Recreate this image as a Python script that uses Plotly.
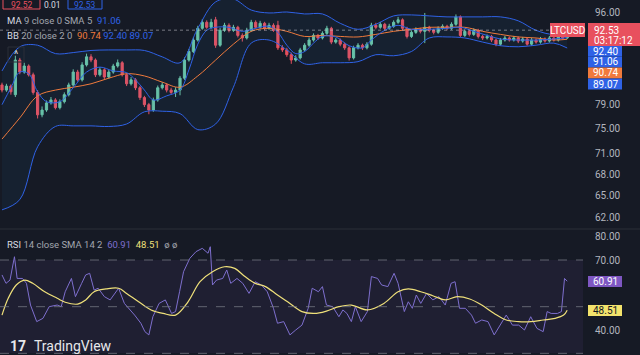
import math
import plotly.graph_objects as go

# ---------------- data ----------------
opens = [82.3, 81.4, 82.1, 80.6, 86.8, 84.6, 85.7, 84.1, 81.0, 77.2,
         78.0, 79.2, 79.7, 78.4, 79.4, 80.6, 82.3, 84.6, 83.2, 85.9,
         87.4, 86.8, 84.1, 85.0, 83.7, 84.6, 85.7, 86.3, 84.1, 82.5,
         83.2, 81.8, 80.1, 78.9, 78.0, 79.7, 81.8, 82.3, 81.4, 81.0,
         81.4, 83.5, 86.8, 88.4, 90.6, 92.9, 94.1, 93.1, 94.6, 89.6,
         92.5, 93.5, 92.5, 93.1, 91.5, 91.0, 92.5, 94.1, 93.1, 93.9,
         92.9, 93.5, 93.5, 89.1, 88.7, 87.8, 86.8, 87.2, 88.7, 89.6,
         90.6, 91.5, 91.0, 91.9, 92.9, 90.2, 90.6, 89.8, 89.1, 87.2,
         89.1, 89.6, 89.1, 89.8, 93.5, 93.1, 93.7, 92.9, 93.3, 94.1,
         94.6, 92.9, 91.3, 92.1, 92.7, 92.3, 93.1, 92.5, 92.1, 92.9,
         93.3, 92.9, 93.7, 95.2, 91.5, 92.3, 91.7, 92.5, 91.3, 91.0,
         91.3, 90.6, 89.8, 90.6, 91.0, 90.6, 91.0, 90.4, 90.8, 89.8,
         90.6, 90.2, 90.8, 90.4, 91.0, 90.6, 91.2, 91.0]
highs = [82.7, 82.5, 82.4, 87.6, 87.2, 86.3, 86.0, 84.5, 81.4, 78.6,
         79.6, 80.2, 80.0, 79.8, 81.0, 82.7, 85.1, 85.0, 86.4, 88.0,
         87.9, 87.1, 85.5, 85.3, 85.0, 86.1, 86.9, 86.6, 84.4, 83.7,
         83.5, 82.1, 80.4, 79.2, 80.1, 82.2, 82.8, 82.6, 81.8, 81.9,
         83.9, 87.3, 88.9, 91.1, 93.4, 94.7, 94.5, 94.8, 95.2, 93.0,
         94.0, 93.9, 93.6, 93.4, 91.9, 93.0, 94.6, 94.5, 94.4, 94.2,
         94.0, 93.9, 94.4, 89.6, 89.1, 88.2, 87.7, 89.1, 90.0, 91.1,
         91.9, 91.8, 92.3, 93.4, 93.2, 91.0, 90.9, 90.1, 89.4, 89.5,
         90.0, 89.9, 90.2, 94.0, 94.0, 94.2, 94.0, 93.8, 94.5, 95.2,
         94.9, 93.2, 92.5, 93.1, 93.0, 96.0, 93.4, 92.8, 93.3, 93.7,
         93.6, 94.1, 95.7, 95.5, 92.7, 92.6, 92.9, 92.8, 91.6, 91.7,
         91.6, 90.9, 91.0, 91.4, 91.3, 91.4, 91.3, 91.2, 91.1, 91.0,
         90.9, 91.2, 91.1, 91.4, 91.3, 91.6, 91.5, 92.8]
lows = [81.0, 81.1, 80.6, 80.2, 84.2, 84.3, 83.8, 80.6, 76.6, 76.8,
        77.7, 78.9, 78.1, 78.1, 79.1, 80.3, 82.0, 82.9, 82.9, 85.6,
        86.4, 83.7, 83.8, 83.3, 83.4, 84.3, 85.4, 83.8, 82.1, 82.2,
        81.4, 79.7, 78.5, 77.3, 77.7, 79.4, 81.5, 81.0, 80.6, 80.2,
        80.5, 83.2, 86.5, 88.1, 90.3, 92.6, 92.8, 92.8, 89.1, 89.3,
        92.2, 92.1, 92.2, 91.1, 90.3, 90.7, 92.2, 92.8, 92.8, 92.5,
        92.6, 92.2, 88.7, 88.3, 87.4, 86.1, 86.5, 86.9, 88.4, 89.3,
        90.3, 90.6, 90.7, 91.6, 89.8, 89.9, 89.4, 88.7, 86.7, 86.9,
        88.8, 88.7, 88.8, 89.5, 92.7, 92.8, 92.5, 92.6, 93.0, 93.8,
        92.5, 90.9, 91.0, 91.8, 91.9, 90.0, 92.1, 91.7, 91.8, 92.6,
        92.5, 92.6, 93.4, 91.1, 91.2, 91.3, 91.4, 90.9, 90.6, 90.7,
        90.2, 89.4, 89.5, 90.3, 90.3, 90.3, 90.0, 90.1, 89.5, 89.5,
        89.9, 89.9, 90.1, 90.1, 90.3, 90.3, 90.7, 90.8]
closes = [81.4, 82.1, 81.1, 86.8, 84.6, 85.7, 84.1, 81.0, 77.2, 78.0,
          79.2, 79.7, 78.4, 79.4, 80.6, 82.3, 84.6, 83.2, 85.9, 87.4,
          86.8, 84.1, 85.0, 83.7, 84.6, 85.7, 86.3, 84.1, 82.5, 83.2,
          81.8, 80.1, 78.9, 78.0, 79.7, 81.8, 82.3, 81.4, 81.0, 81.4,
          83.5, 86.8, 88.4, 90.6, 92.9, 94.1, 93.1, 94.1, 89.6, 92.5,
          93.5, 92.5, 93.1, 91.5, 91.0, 92.5, 94.1, 93.1, 93.9, 92.9,
          93.5, 92.5, 89.1, 88.7, 87.8, 86.8, 87.2, 88.7, 89.6, 90.6,
          91.5, 91.0, 91.9, 92.9, 90.2, 90.6, 89.8, 89.1, 87.2, 89.1,
          89.6, 89.1, 89.8, 93.5, 93.1, 93.7, 92.9, 93.3, 94.1, 94.6,
          92.9, 91.3, 92.1, 92.7, 92.3, 93.1, 92.5, 92.1, 92.9, 93.3,
          92.9, 93.7, 95.2, 91.5, 92.3, 91.7, 92.5, 91.3, 91.0, 91.3,
          90.6, 89.8, 90.6, 91.0, 90.6, 91.0, 90.4, 90.8, 89.8, 90.6,
          90.2, 90.8, 90.4, 91.0, 90.6, 91.2, 91.0, 92.53]
candle_idx = list(range(len(closes)))

bb_x = [0, 4, 8, 12, 16, 20, 24, 28, 32, 36, 40, 44, 48, 52, 56, 60, 64,
        68, 72, 76, 80, 84, 88, 92, 96, 100, 104, 108, 112, 116, 120, 124, 127]
bb_upper = [84.8, 89.3, 89.6, 88.0, 88.2, 88.6, 88.7, 88.7, 88.6, 87.4, 86.3,
            92.9, 98.3, 98.9, 96.6, 96.0, 96.2, 95.8, 95.8, 93.9, 92.7, 93.7,
            95.4, 95.6, 95.4, 95.2, 95.2, 95.2, 95.2, 94.4, 92.5, 91.7, 92.40]
bb_basis = [73.3, 76.7, 80.4, 81.4, 81.9, 82.5, 83.5, 84.3, 83.9, 82.8, 81.9,
            83.9, 86.8, 89.8, 92.3, 92.9, 92.3, 91.3, 91.5, 91.3, 91.2, 91.7,
            92.3, 92.7, 93.1, 93.1, 93.1, 92.3, 91.7, 91.2, 91.0, 90.6, 90.74]
bb_lower = [63.0, 64.4, 72.1, 75.3, 75.4, 75.4, 75.3, 75.7, 77.7, 77.8, 77.4,
            74.8, 75.7, 81.9, 90.0, 90.6, 88.7, 86.1, 86.3, 86.3, 86.5, 87.8,
            87.6, 88.4, 91.0, 91.2, 91.0, 90.2, 89.5, 89.3, 89.6, 90.0, 89.07]

ma_x = [0, 2, 4, 6, 8, 10, 13, 16, 19, 22, 25, 28, 30, 32, 34, 37, 40, 42,
        44, 46, 48, 51, 54, 57, 60, 62, 64, 66, 68, 70, 72, 75, 78, 81, 83,
        86, 89, 92, 96, 100, 103, 106, 109, 112, 116, 120, 124, 127]
ma_vals = [78.9, 81.8, 84.6, 84.3, 81.1, 79.4, 79.4, 81.8, 84.6, 85.5, 84.8,
           84.5, 83.2, 81.4, 79.7, 80.4, 81.4, 85.0, 89.8, 92.5, 93.1, 93.1,
           92.3, 92.9, 93.3, 92.1, 89.6, 88.0, 88.4, 90.0, 91.3, 91.2, 89.5,
           89.1, 90.6, 92.5, 93.5, 92.7, 92.7, 92.9, 93.1, 92.3, 91.5, 90.8,
           90.6, 90.6, 90.8, 91.06]

rsi_x = [0, 0.9, 1.8, 2.8, 3.4, 4.6, 5.5, 6.4, 7.8, 9.2,
         10.6, 12.4, 13.3, 14.2, 15.6, 16.5, 17.9, 18.8, 19.7, 20.7,
         21.6, 23.0, 24.3, 26.2, 27.5, 28.5, 29.8, 31.2, 32.1, 33.0,
         33.9, 35.3, 36.7, 38.1, 39.0, 39.9, 40.8, 42.2, 43.6, 45.0,
         46.3, 46.8, 47.3, 48.2, 49.6, 50.5, 51.4, 52.8, 54.1, 55.5,
         56.9, 58.3, 59.6, 61.0, 61.9, 63.3, 64.7, 66.0, 67.4, 68.8,
         69.7, 71.1, 72.0, 72.9, 74.3, 75.7, 76.6, 77.5, 78.5, 79.4,
         80.7, 82.1, 83.0, 84.4, 85.3, 86.7, 88.1, 89.0, 90.4, 91.3,
         92.2, 93.1, 94.1, 95.4, 96.8, 98.2, 99.6, 100.9, 101.8, 102.8,
         104.1, 105.5, 106.4, 107.8, 109.2, 110.6, 111.9, 113.3, 114.7, 116.1,
         117.4, 118.8, 120.2, 121.6, 122.5, 123.4, 124.8, 125.7, 126.4, 127.0]
rsi_vals = [63.6, 60.0, 61.4, 71.4, 62.1, 62.1, 60.0, 50.7, 43.6, 45.0,
            50.0, 50.7, 50.0, 56.4, 62.1, 54.3, 60.0, 63.6, 64.3, 57.1,
            57.9, 54.3, 52.9, 57.9, 51.4, 49.3, 46.4, 42.9, 39.3, 37.9,
            45.7, 51.4, 52.9, 47.1, 47.9, 56.4, 65.0, 70.7, 73.6, 75.0,
            72.9, 75.7, 59.3, 61.4, 62.1, 65.7, 60.0, 62.1, 60.0, 55.7,
            60.7, 59.3, 56.4, 49.3, 42.9, 43.6, 37.9, 40.0, 42.1, 49.3,
            57.9, 56.4, 58.6, 50.7, 50.0, 45.7, 48.6, 47.1, 43.6, 50.0,
            43.6, 47.9, 62.9, 62.1, 59.3, 58.6, 64.3, 60.0, 47.9, 52.1,
            49.3, 55.0, 51.4, 55.7, 52.9, 54.3, 50.7, 60.0, 60.7, 49.3,
            49.3, 46.4, 42.9, 44.3, 43.6, 37.9, 42.1, 46.4, 42.1, 42.1,
            40.0, 45.7, 40.7, 39.3, 47.9, 47.1, 47.1, 47.9, 62.1, 60.91]

rsi_ma_x = [0, 1.4, 3.2, 5.1, 6.9, 9.6, 12.4, 14.2, 17, 18.8,
            20.7, 23.4, 26.2, 28, 30.7, 33.5, 36.2, 39, 41.8, 44.5,
            47.3, 50, 52.3, 54.6, 56.9, 59.2, 61.9, 64.7, 67.4, 70.2,
            72.9, 75.7, 78.5, 82.1, 85.8, 89, 91.3, 94.1, 96.8, 99.6,
            102.3, 105.1, 107.8, 110.6, 113.3, 116.1, 118.8, 121.6, 124.3, 126.2, 127]
rsi_ma_vals = [46.4, 53.6, 59.3, 61.4, 60.0, 56.4, 53.6, 51.9, 51.1, 52.9,
               56.4, 57.6, 57.9, 55.7, 52.1, 48.6, 47.1, 46.4, 52.1, 60.7,
               65.0, 67.1, 66.4, 62.9, 60.0, 58.6, 55.0, 51.4, 47.9, 47.1,
               48.1, 50.0, 50.7, 48.6, 51.4, 56.4, 57.6, 56.4, 54.7, 52.9,
               54.3, 53.3, 50.7, 47.1, 44.3, 43.6, 43.6, 44.3, 45.0, 46.4, 48.51]

price_ticks = [62, 65, 68, 71, 75, 79, 96]
rsi_ticks = [30, 40, 70, 80]
rsi_levels = [70, 50, 30]
bid_price = 92.52
spread = 0.01
countdown = "03:17:12"
symbol = "LTCUSD"

# ---------------- style ----------------
W, H = 640, 355
BG = "#161a25"
UP = "#6cc4a4"
DOWN = "#e8505e"
BLUE = "#2f62e6"
ORANGE = "#f07a3c"
PURPLE = "#7e6fce"
YELLOW = "#efe07a"
GRAY = "#a3a6af"
WHITE = "#d8dae0"
FONT = "Roboto"

PLOT_RIGHT = 583          # pixel where the price scale begins
PRICE_PANEL_BOTTOM = 228
RSI_PANEL_TOP = 230


def px(x):
    return x / W


def py(y):
    return 1 - y / H


fig = go.Figure()

# Bollinger bands
fig.add_trace(go.Scatter(x=bb_x, y=bb_lower, mode="lines", line=dict(color=BLUE, width=1, shape="spline"),
                         hoverinfo="skip", showlegend=False))
fig.add_trace(go.Scatter(x=bb_x, y=bb_upper, mode="lines", line=dict(color=BLUE, width=1, shape="spline"),
                         fill="tonexty", fillcolor="rgba(33,150,243,0.06)", hoverinfo="skip", showlegend=False))
fig.add_trace(go.Scatter(x=bb_x, y=bb_basis, mode="lines", line=dict(color=ORANGE, width=1, shape="spline"),
                         hoverinfo="skip", showlegend=False))
fig.add_trace(go.Scatter(x=ma_x, y=ma_vals, mode="lines", line=dict(color=BLUE, width=1, shape="spline"),
                         hoverinfo="skip", showlegend=False))

# candles
fig.add_trace(go.Candlestick(
    x=candle_idx, open=opens, high=highs, low=lows, close=closes,
    increasing=dict(line=dict(color=UP, width=1), fillcolor=UP),
    decreasing=dict(line=dict(color=DOWN, width=1), fillcolor=DOWN),
    whiskerwidth=0, showlegend=False, hoverinfo="skip"))

# RSI
fig.add_trace(go.Scatter(x=rsi_x, y=rsi_vals, mode="lines", yaxis="y2",
                         line=dict(color=PURPLE, width=1), hoverinfo="skip", showlegend=False))
fig.add_trace(go.Scatter(x=rsi_ma_x, y=rsi_ma_vals, mode="lines", yaxis="y2",
                         line=dict(color=YELLOW, width=1.2, shape="spline"), hoverinfo="skip", showlegend=False))

shapes = []
annotations = []

# current price dotted line
shapes.append(dict(type="line", xref="paper", yref="y", x0=0, x1=px(PLOT_RIGHT),
                   y0=closes[-1], y1=closes[-1], line=dict(color="rgba(200,200,210,0.55)", width=1, dash="dot")))

# RSI band + levels
shapes.append(dict(type="rect", xref="paper", yref="y2", x0=0, x1=px(PLOT_RIGHT), y0=30, y1=70,
                   fillcolor="rgba(126,87,194,0.09)", line=dict(width=0), layer="below"))
for lv in rsi_levels:
    shapes.append(dict(type="line", xref="paper", yref="y2", x0=0, x1=px(PLOT_RIGHT), y0=lv, y1=lv,
                       line=dict(color="rgba(120,123,134,0.75)", width=1, dash="dash")))

# panel separator
shapes.append(dict(type="line", xref="paper", yref="paper", x0=0, x1=1,
                   y0=py(229), y1=py(229), line=dict(color="#2a2e39", width=1)))


def box(x0, y0, x1, y1, fill, line=None):
    shapes.append(dict(type="rect", xref="paper", yref="paper", x0=px(x0), x1=px(x1),
                       y0=py(y1), y1=py(y0), fillcolor=fill,
                       line=dict(width=1 if line else 0, color=line or fill), layer="above"))


def txt(x, y, s, color, size=10, anchor="left", bold=False):
    annotations.append(dict(x=px(x), y=py(y), xref="paper", yref="paper", text=f"<b>{s}</b>" if bold else s,
                            showarrow=False, xanchor=anchor, yanchor="middle",
                            font=dict(color=color, size=size, family=FONT)))


def span(s, color):
    return f"<span style='color:{color}'>{s}</span>"


# right-side price labels
box(550, 23, 585, 37, DOWN)
txt(567.5, 30, symbol, "#ffffff", 10, "center")
box(588, 23, 640, 46, DOWN)
txt(592, 30, f"{closes[-1]:.2f}", "#ffffff", 10)
txt(592, 40.5, countdown, "#ffffff", 10)
box(588, 46, 622, 56.5, BLUE)
txt(605, 51, f"{bb_upper[-1]:.2f}", "#ffffff", 10, "center")
box(588, 56.5, 622, 67.5, BLUE)
txt(605, 62, f"{ma_vals[-1]:.2f}", "#ffffff", 10, "center")
box(588, 67.5, 622, 78.5, ORANGE)
txt(605, 73, f"{bb_basis[-1]:.2f}", "#ffffff", 10, "center")
box(588, 78.5, 622, 89.5, BLUE)
txt(605, 84, f"{bb_lower[-1]:.2f}", "#ffffff", 10, "center")

# RSI labels
box(588, 276, 622, 287, "#7e57c2")
txt(605, 281.5, f"{rsi_vals[-1]:.2f}", "#ffffff", 10, "center")
box(588, 305, 622, 316, "#f3e36c")
txt(605, 310.5, f"{rsi_ma_vals[-1]:.2f}", "#131722", 10, "center")

# top-left legend (quote boxes sit at the very top edge, as in the reference)
box(3, -5, 40, 9, BG, DOWN)
txt(21.5, 5, f"{bid_price:.2f}", DOWN, 8.5, "center")
txt(52, 5, f"{spread:.2f}", WHITE, 8.5, "center")
box(68, -5, 102, 9, BG, BLUE)
txt(85, 5, f"{closes[-1]:.2f}", BLUE, 8.5, "center")

txt(5, 20, span("MA", WHITE) + " 9 close 0 SMA 5  " + span(f"{ma_vals[-1]:.2f}", BLUE), GRAY, 9.5)
txt(5, 36, span("BB", WHITE) + " 20 close 2 0  " + span(f"{bb_basis[-1]:.2f}", ORANGE) + " "
    + span(f"{bb_upper[-1]:.2f}", BLUE) + " " + span(f"{bb_lower[-1]:.2f}", BLUE), GRAY, 9.5)

box(8, 47, 24, 62, "rgba(0,0,0,0)", "#2a2e39")
txt(16, 54, "^", WHITE, 10, "center")

txt(5, 244, span("RSI", WHITE) + " 14 close SMA 14 2  " + span(f"{rsi_vals[-1]:.2f}", PURPLE) + "  "
    + span(f"{rsi_ma_vals[-1]:.2f}", YELLOW) + "  ø ø", GRAY, 9.5)

# watermark
txt(8, 346, "17", "#e6e7ea", 14, bold=True)
txt(32, 346, "TradingView", "#e6e7ea", 14)

axis_common = dict(showgrid=False, zeroline=False, showline=False, side="right", anchor="x",
                   ticks="outside", ticklen=9, tickcolor="rgba(0,0,0,0)",
                   tickfont=dict(color="#b2b5be", size=10, family=FONT), fixedrange=True)

fig.update_layout(
    width=W, height=H,
    margin=dict(l=0, r=0, t=0, b=0),
    paper_bgcolor=BG, plot_bgcolor=BG,
    showlegend=False, hovermode=False,
    xaxis=dict(domain=[0, px(PLOT_RIGHT)], range=[-0.45, 130.55], visible=False,
               rangeslider=dict(visible=False), fixedrange=True),
    yaxis=dict(type="log", domain=[py(PRICE_PANEL_BOTTOM), 1],
               range=[math.log10(60.6), math.log10(98.7)],
               tickvals=price_ticks, ticktext=[f"{v:.2f}" for v in price_ticks], **axis_common),
    yaxis2=dict(domain=[0, py(RSI_PANEL_TOP)], range=[29.29, 82.86],
                tickvals=rsi_ticks, ticktext=[f"{v:.2f}" for v in rsi_ticks], **axis_common),
    shapes=shapes,
    annotations=annotations,
)

fig.write_html("out.html")
